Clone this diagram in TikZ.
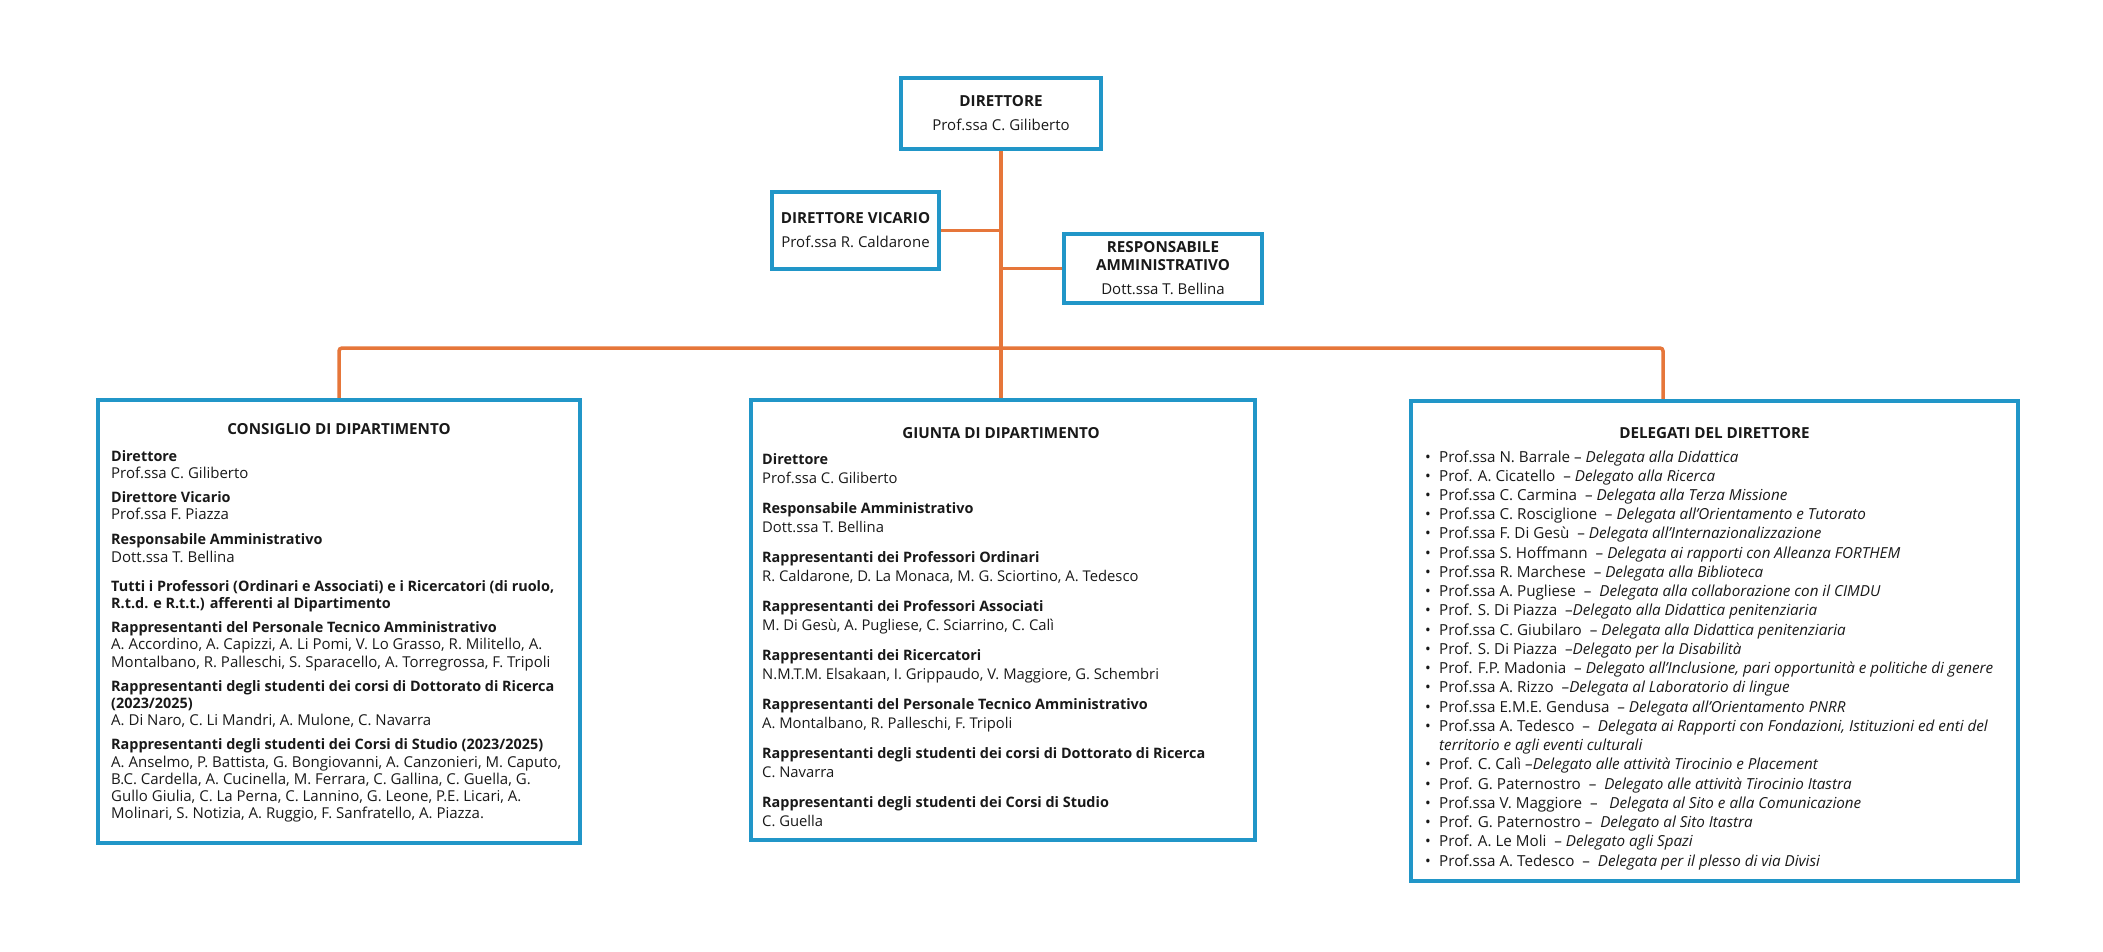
\documentclass[tikz,border=0pt]{standalone}
\usepackage{fontspec}
\setmainfont{Open Sans}
\usetikzlibrary{backgrounds}
\definecolor{boxblue}{RGB}{33,150,200}
\definecolor{linkorange}{RGB}{230,118,58}
\definecolor{ink}{RGB}{25,25,25}
\newcommand\hd[1]{{\fontsize{14.4}{17}\selectfont\bfseries #1}}
\newcommand\bul{\makebox[14pt][l]{\textbullet}}
\begin{document}
\begin{tikzpicture}[x=1pt,y=-1pt,
  box/.style={draw=boxblue, line width=4.5pt, fill=white, inner sep=0pt},
  conn/.style={draw=linkorange, line width=3.5pt},
  ttl/.style={anchor=base, inner sep=0pt, text=ink, font=\fontsize{15.2}{18}\selectfont\bfseries},
  nm/.style={anchor=base, inner sep=0pt, text=ink, font=\fontsize{15}{18}\selectfont},
  body/.style={anchor=base west, inner sep=0pt, text=ink}]
\useasboundingbox (0,0) rectangle (2103,951);

% boxes
\node[box, minimum width=200pt, minimum height=71pt] (dir) at (1001,113.5) {};
\node[box, minimum width=167pt, minimum height=77pt] (vic) at (855.5,230.5) {};
\node[box, minimum width=198pt, minimum height=69pt] (resp) at (1163,268.5) {};
\node[box, minimum width=482pt, minimum height=443pt] (cons) at (339,621.5) {};
\node[box, minimum width=504pt, minimum height=440pt] (giun) at (1003,620) {};
\node[box, minimum width=607pt, minimum height=480pt] (del) at (1714.5,641) {};

% connectors
\coordinate (busL) at (339,348);
\coordinate (busR) at (1663,348);
\coordinate (delTop) at (1663,401);
\begin{scope}[on background layer]
\fill[white] (0,0) rectangle (2103,951);
\draw[conn] (dir.south) -- (dir.south |- giun.north);
\draw[conn] (vic.east) -- (vic.east -| dir.south);
\draw[conn] (resp.west) -- (resp.west -| dir.south);
\draw[conn, rounded corners=3pt] (cons.north) -- (busL) -- (busR) -- (delTop);
\end{scope}

% top boxes text
\node[ttl] (dirT) at (1001,106) {DIRETTORE};
\node[nm] (dirN) at (1001,130) {Prof.ssa C. Giliberto};
\node[ttl] (vicT) at (855.5,223) {DIRETTORE VICARIO};
\node[nm] (vicN) at (855.5,247) {Prof.ssa R. Caldarone};
\node[ttl] (respT1) at (1163,252) {RESPONSABILE};
\node[ttl] (respT2) at (1163,270) {AMMINISTRATIVO};
\node[nm] (respN) at (1163,294) {Dott.ssa T. Bellina};

% Consiglio
\node[ttl] (consT) at (339,434) {CONSIGLIO DI DIPARTIMENTO};
\node[body] (consB) at (111,461) {\parbox[t]{470pt}{\fontsize{15}{17.2}\selectfont\raggedright
\hd{Direttore}\\
Prof.ssa C. Giliberto\\[7pt]
\hd{Direttore Vicario}\\
Prof.ssa F. Piazza\\[8pt]
\hd{Responsabile Amministrativo}\\
Dott.ssa T. Bellina\\[12pt]
\hd{Tutti i Professori (Ordinari e Associati) e i Ricercatori (di ruolo,}\\
\hd{R.t.d. e R.t.t.) afferenti al Dipartimento}\\[7pt]
\hd{Rappresentanti del Personale Tecnico Amministrativo}\\
A. Accordino, A. Capizzi, A. Li Pomi, V. Lo Grasso, R. Militello, A.\\
Montalbano, R. Palleschi, S. Sparacello, A. Torregrossa, F. Tripoli\\[7pt]
\hd{Rappresentanti degli studenti dei corsi di Dottorato di Ricerca}\\
\hd{(2023/2025)}\\
A. Di Naro, C. Li Mandri, A. Mulone, C. Navarra\\[7pt]
\hd{Rappresentanti degli studenti dei Corsi di Studio (2023/2025)}\\
A. Anselmo, P. Battista, G. Bongiovanni, A. Canzonieri, M. Caputo,\\
B.C. Cardella, A. Cucinella, M. Ferrara, C. Gallina, C. Guella, G.\\
Gullo Giulia, C. La Perna, C. Lannino, G. Leone, P.E. Licari, A.\\
Molinari, S. Notizia, A. Ruggio, F. Sanfratello, A. Piazza.}};

% Giunta
\node[ttl] (giunT) at (1001,438) {GIUNTA DI DIPARTIMENTO};
\node[body] (giunB) at (762,464) {\parbox[t]{480pt}{\fontsize{14.8}{19}\selectfont\raggedright
\hd{Direttore}\\
Prof.ssa C. Giliberto\\[11pt]
\hd{Responsabile Amministrativo}\\
Dott.ssa T. Bellina\\[11pt]
\hd{Rappresentanti dei Professori Ordinari}\\
R. Caldarone, D. La Monaca, M. G. Sciortino, A. Tedesco\\[11pt]
\hd{Rappresentanti dei Professori Associati}\\
M. Di Gesù, A. Pugliese, C. Sciarrino, C. Calì\\[11pt]
\hd{Rappresentanti dei Ricercatori}\\
N.M.T.M. Elsakaan, I. Grippaudo, V. Maggiore, G. Schembri\\[11pt]
\hd{Rappresentanti del Personale Tecnico Amministrativo}\\
A. Montalbano, R. Palleschi, F. Tripoli\\[11pt]
\hd{Rappresentanti degli studenti dei corsi di Dottorato di Ricerca}\\
C. Navarra\\[11pt]
\hd{Rappresentanti degli studenti dei Corsi di Studio}\\
C. Guella}};

% Delegati
\node[ttl] (delT) at (1714.5,438) {DELEGATI DEL DIRETTORE};
\node[body] (delB) at (1425,462) {\parbox[t]{590pt}{\fontsize{15.2}{19.24}\selectfont\raggedright
\bul Prof.ssa N. Barrale – \textit{Delegata alla Didattica}\\
\bul Prof. A. Cicatello~ – \textit{Delegato alla Ricerca}\\
\bul Prof.ssa C. Carmina~ – \textit{Delegata alla Terza Missione}\\
\bul Prof.ssa C. Rosciglione~ – \textit{Delegata all'Orientamento e Tutorato}\\
\bul Prof.ssa F. Di Gesù~ – \textit{Delegata all'Internazionalizzazione}\\
\bul Prof.ssa S. Hoffmann~ – \textit{Delegata ai rapporti con Alleanza FORTHEM}\\
\bul Prof.ssa R. Marchese~ – \textit{Delegata alla Biblioteca}\\
\bul Prof.ssa A. Pugliese~ – ~\textit{Delegata alla collaborazione con il CIMDU}\\
\bul Prof. S. Di Piazza~ –\textit{Delegato alla Didattica penitenziaria}\\
\bul Prof.ssa C. Giubilaro~ – \textit{Delegata alla Didattica penitenziaria}\\
\bul Prof. S. Di Piazza~ –\textit{Delegato per la Disabilità}\\
\bul Prof. F.P. Madonia~ – \textit{Delegato all'Inclusione, pari opportunità e politiche di genere}\\
\bul Prof.ssa A. Rizzo~ –\textit{Delegata al Laboratorio di lingue}\\
\bul Prof.ssa E.M.E. Gendusa~ – \textit{Delegata all'Orientamento PNRR}\\
\bul Prof.ssa A. Tedesco~ – ~\textit{Delegata ai Rapporti con Fondazioni, Istituzioni ed enti del}\\
\hspace*{14pt}\textit{territorio e agli eventi culturali}\\
\bul Prof. C. Calì –\textit{Delegato alle attività Tirocinio e Placement}\\
\bul Prof. G. Paternostro~ – ~\textit{Delegato alle attività Tirocinio Itastra}\\
\bul Prof.ssa V. Maggiore~ – ~~\textit{Delegata al Sito e alla Comunicazione}\\
\bul Prof. G. Paternostro – ~\textit{Delegato al Sito Itastra}\\
\bul Prof. A. Le Moli~ – \textit{Delegato agli Spazi}\\
\bul Prof.ssa A. Tedesco~ – ~\textit{Delegata per il plesso di via Divisi}}};
\end{tikzpicture}
\end{document}
